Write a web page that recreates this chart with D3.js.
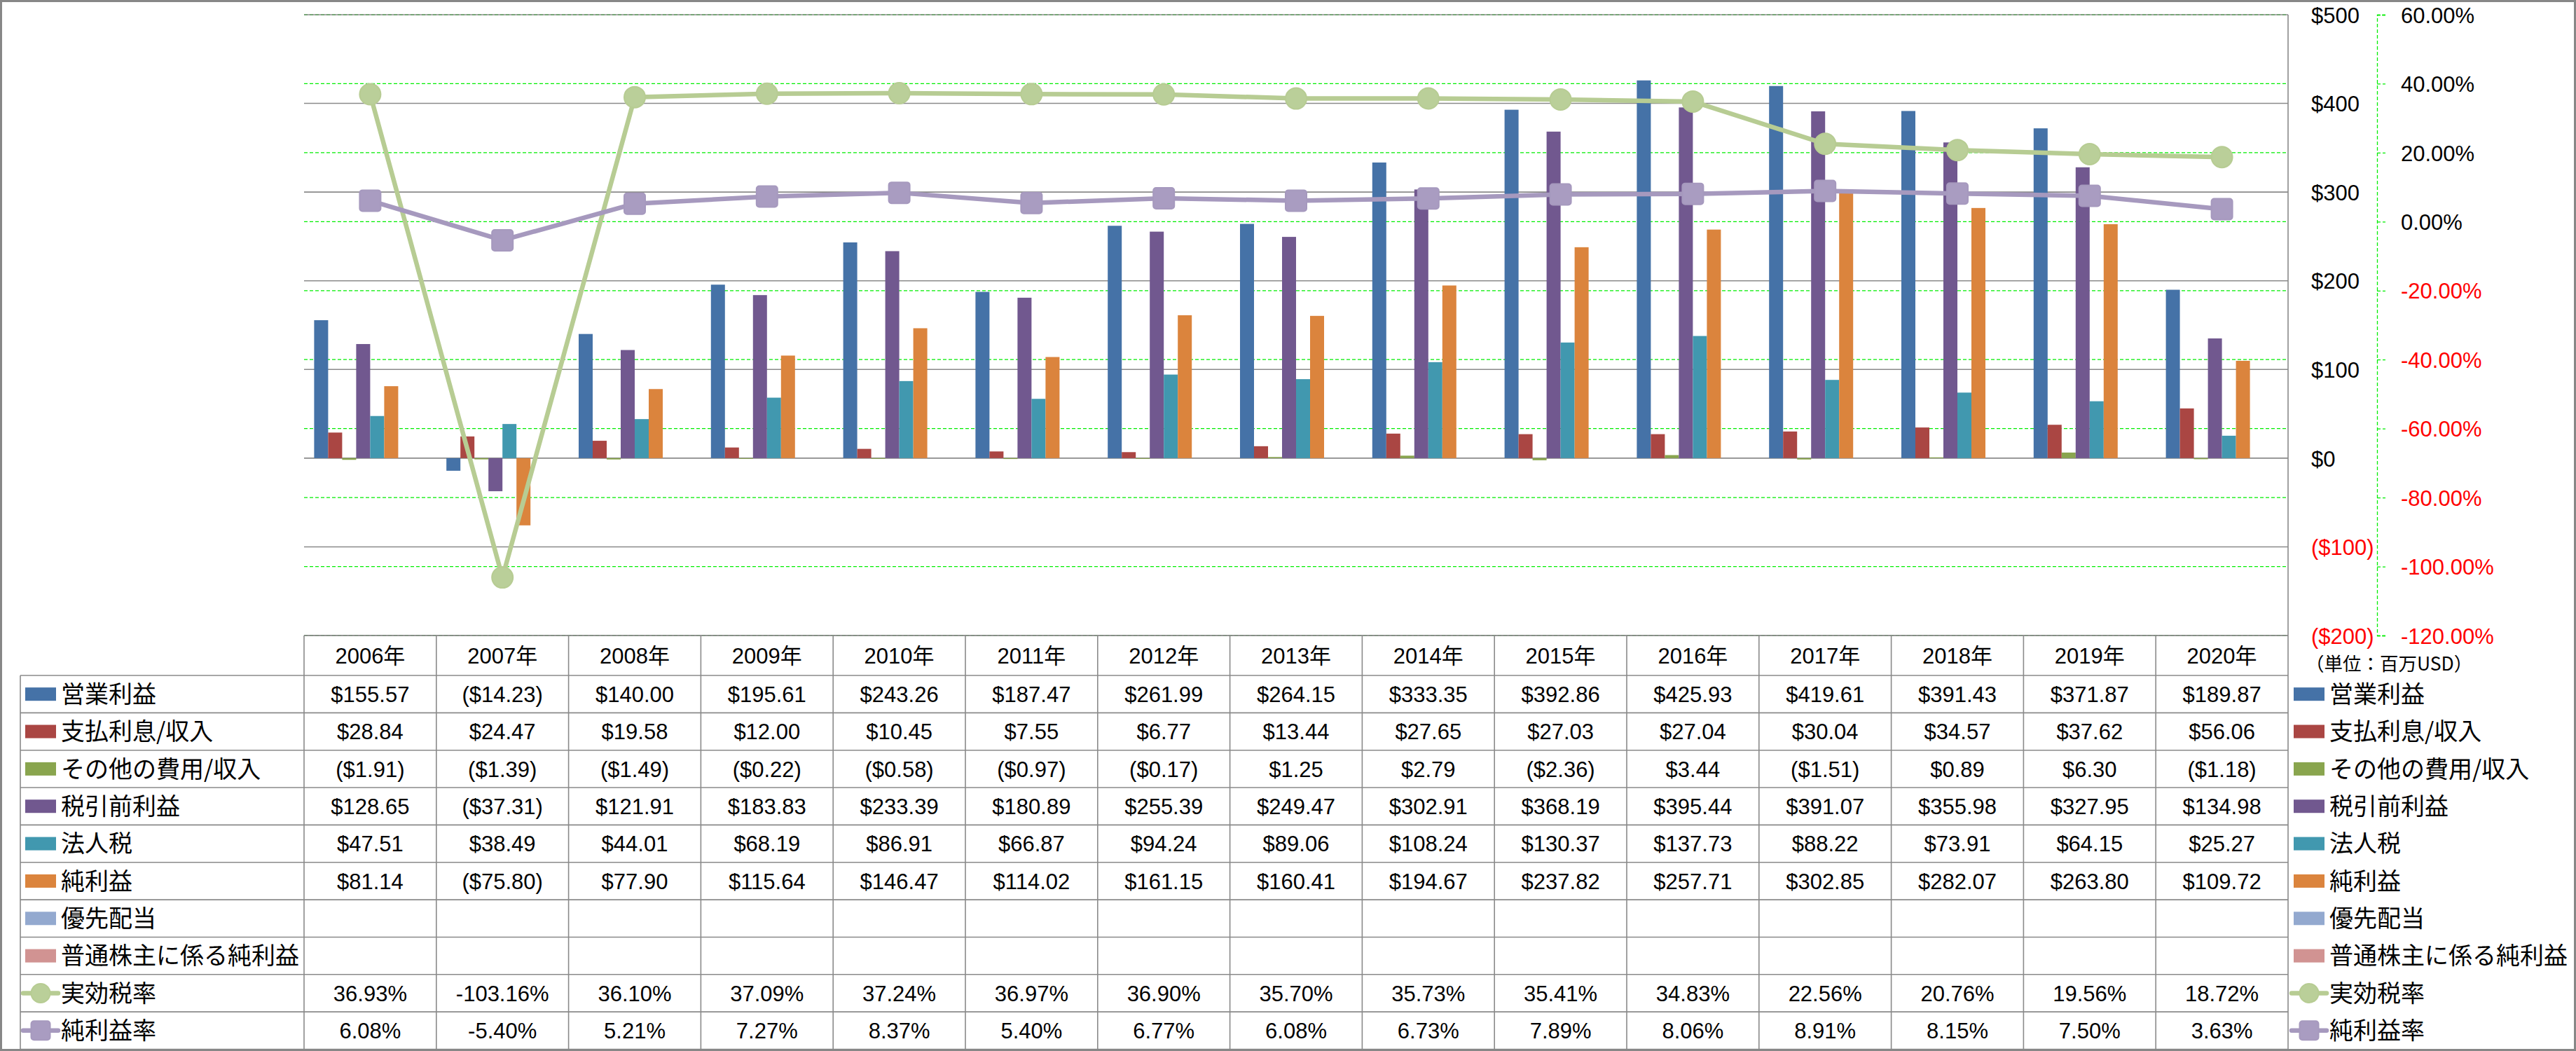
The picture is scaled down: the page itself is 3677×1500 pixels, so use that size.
<!DOCTYPE html>
<html><head><meta charset="utf-8">
<script src="https://cdn.jsdelivr.net/npm/d3@7"></script>
<style>body{margin:0;background:#fff} svg{display:block}</style>
</head><body><svg id="c" width="3677" height="1500"></svg>
<script>
// ---------- DATA ----------
const years = ["2006年","2007年","2008年","2009年","2010年","2011年","2012年","2013年","2014年","2015年","2016年","2017年","2018年","2019年","2020年"];
const operatingIncome = [155.57,-14.23,140.00,195.61,243.26,187.47,261.99,264.15,333.35,392.86,425.93,419.61,391.43,371.87,189.87];
const interestExpense = [28.84,24.47,19.58,12.00,10.45,7.55,6.77,13.44,27.65,27.03,27.04,30.04,34.57,37.62,56.06];
const otherExpense = [-1.91,-1.39,-1.49,-0.22,-0.58,-0.97,-0.17,1.25,2.79,-2.36,3.44,-1.51,0.89,6.30,-1.18];
const pretaxIncome = [128.65,-37.31,121.91,183.83,233.39,180.89,255.39,249.47,302.91,368.19,395.44,391.07,355.98,327.95,134.98];
const incomeTax = [47.51,38.49,44.01,68.19,86.91,66.87,94.24,89.06,108.24,130.37,137.73,88.22,73.91,64.15,25.27];
const netIncome = [81.14,-75.80,77.90,115.64,146.47,114.02,161.15,160.41,194.67,237.82,257.71,302.85,282.07,263.80,109.72];
const preferredDividends = [null,null,null,null,null,null,null,null,null,null,null,null,null,null,null];
const netIncomeCommon = [null,null,null,null,null,null,null,null,null,null,null,null,null,null,null];
const effectiveTaxRate = [36.93,-103.16,36.10,37.09,37.24,36.97,36.90,35.70,35.73,35.41,34.83,22.56,20.76,19.56,18.72];
const netMargin = [6.08,-5.40,5.21,7.27,8.37,5.40,6.77,6.08,6.73,7.89,8.06,8.91,8.15,7.50,3.63];
const primaryTicks = [-200,-100,0,100,200,300,400,500];
const secondaryTicks = [-120,-100,-80,-60,-40,-20,0,20,40,60];
const unitLabel = "（単位：百万USD）";

const barSeries = [
  {name:"営業利益", values:operatingIncome, color:"#4572A7"},
  {name:"支払利息/収入", values:interestExpense, color:"#AA4643"},
  {name:"その他の費用/収入", values:otherExpense, color:"#89A54E"},
  {name:"税引前利益", values:pretaxIncome, color:"#71588F"},
  {name:"法人税", values:incomeTax, color:"#4198AF"},
  {name:"純利益", values:netIncome, color:"#DB843D"},
  {name:"優先配当", values:preferredDividends, color:"#93A9CF"},
  {name:"普通株主に係る純利益", values:netIncomeCommon, color:"#D19392"}
];
const lineSeries = [
  {name:"実効税率", values:effectiveTaxRate, color:"#B7CC93", fill:"#BACF99", marker:"circle"},
  {name:"純利益率", values:netMargin, color:"#A699BE", fill:"#A99CC1", marker:"square"}
];

// ---------- LAYOUT ----------
const svg = d3.select("#c");
const W = 3677, H = 1500;
const plotL = 434, plotR = 3266, plotT = 21, plotB = 907;
const tableL = 29, rowTop = 964, rowH = 53.35;
const numFont = "'Liberation Sans', 'Noto Sans CJK JP', sans-serif";
const jpFont = "'Noto Sans CJK JP', sans-serif";
const gridGray = "#8A8A8A";
const green = "#00EE00";

const x0 = d3.scaleBand().domain(years).range([plotL, plotR]).paddingInner(0.1525).paddingOuter(0.1525/2);
const x1 = d3.scaleBand().domain(d3.range(barSeries.length)).range([0, x0.bandwidth()]);
const y1 = d3.scaleLinear().domain([-200, 500]).range([plotB, plotT]);
const y2 = d3.scaleLinear().domain([-120, 60]).range([plotB, plotT]);
const step = x0.step();
const cx = d => x0(d) + x0.bandwidth()/2;

svg.append("rect").attr("width", W).attr("height", H).attr("fill", "#fff");

// secondary gridlines (green dashed)
svg.append("g").selectAll("line").data(secondaryTicks).join("line")
  .attr("x1", plotL).attr("x2", plotR).attr("y1", d => y2(d)).attr("y2", d => y2(d))
  .attr("stroke", green).attr("stroke-width", 1.3).attr("stroke-dasharray", "5,3");
// primary gridlines (gray)
svg.append("g").selectAll("line").data(primaryTicks).join("line")
  .attr("x1", plotL).attr("x2", plotR).attr("y1", d => y1(d)).attr("y2", d => y1(d))
  .attr("stroke", gridGray).attr("stroke-width", 1.6);

// bars
const gBars = svg.append("g");
barSeries.forEach((s, j) => {
  gBars.append("g").selectAll("rect")
    .data(years.map((y, i) => ({y, v: s.values[i]})).filter(d => d.v !== null))
    .join("rect")
    .attr("x", d => x0(d.y) + x1(j))
    .attr("width", x1.bandwidth())
    .attr("y", d => y1(Math.max(0, d.v)))
    .attr("height", d => Math.max(1, Math.abs(y1(d.v) - y1(0))))
    .attr("fill", s.color);
});

// lines
lineSeries.forEach(s => {
  const data = years.map((y, i) => ({y, v: s.values[i]}));
  svg.append("path").datum(data)
    .attr("d", d3.line().x(d => cx(d.y)).y(d => y2(d.v)))
    .attr("fill", "none").attr("stroke", s.color).attr("stroke-width", 6.5)
    .attr("stroke-linejoin", "round");
  const g = svg.append("g");
  if (s.marker === "circle") {
    g.selectAll("circle").data(data).join("circle")
      .attr("cx", d => cx(d.y)).attr("cy", d => y2(d.v)).attr("r", 15)
      .attr("fill", s.fill).attr("stroke", s.color).attr("stroke-width", 2);
  } else {
    g.selectAll("rect").data(data).join("rect")
      .attr("x", d => cx(d.y) - 15).attr("y", d => y2(d.v) - 15)
      .attr("width", 30).attr("height", 30).attr("rx", 4)
      .attr("fill", s.fill).attr("stroke", s.color).attr("stroke-width", 2);
  }
});

// plot right border
svg.append("line").attr("x1", plotR).attr("x2", plotR).attr("y1", plotT).attr("y2", rowTop + rowH*10)
  .attr("stroke", gridGray).attr("stroke-width", 1.6);

// primary axis (labels only)
const ax1 = svg.append("g").attr("transform", `translate(3299,0)`)
  .call(d3.axisRight(y1).tickValues(primaryTicks).tickSize(0).tickPadding(0)
    .tickFormat(d => d < 0 ? `($${-d})` : `$${d}`));
ax1.select(".domain").remove();
ax1.selectAll("text").attr("font-family", numFont).attr("font-size", 31)
  .attr("fill", d => d < 0 ? "#FF0000" : "#000").attr("dy", "0.36em");

// secondary axis
const ax2 = svg.append("g").attr("transform", `translate(3393,0)`)
  .call(d3.axisRight(y2).tickValues(secondaryTicks).tickSize(12).tickPadding(22)
    .tickFormat(d => d.toFixed(2) + "%"));
ax2.select(".domain").attr("stroke", green).attr("stroke-width", 1.3).attr("stroke-dasharray", "5,3");
ax2.selectAll(".tick line").attr("stroke", green).attr("stroke-width", 1.3).attr("stroke-dasharray", "5,3");
ax2.selectAll("text").attr("font-family", numFont).attr("font-size", 31)
  .attr("fill", d => d < 0 ? "#FF0000" : "#000").attr("dy", "0.36em");

// unit label
svg.append("text").attr("x", 3291).attr("y", 947).attr("dy", "0.36em")
  .attr("font-family", jpFont).attr("font-size", 26.5).text(unitLabel);

// ---------- DATA TABLE ----------
const tg = svg.append("g");
const rows = [...barSeries.map(s => ({...s, kind:"bar"})), ...lineSeries.map(s => ({...s, kind:"line"}))];
const tableBottom = rowTop + rowH * rows.length;
const fmtMoney = v => v === null ? "" : (v < 0 ? `($${Math.abs(v).toFixed(2)})` : `$${v.toFixed(2)}`);
const fmtPct = v => v === null ? "" : v.toFixed(2) + "%";

// horizontal lines
tg.append("line").attr("x1", plotL).attr("x2", plotR).attr("y1", plotB).attr("y2", plotB)
  .attr("stroke", gridGray).attr("stroke-width", 1.6);
tg.selectAll(".hl").data(d3.range(rows.length + 1)).join("line")
  .attr("x1", tableL).attr("x2", plotR)
  .attr("y1", i => rowTop + i*rowH).attr("y2", i => rowTop + i*rowH)
  .attr("stroke", gridGray).attr("stroke-width", 1.6);
// vertical lines
tg.selectAll(".vl").data(d3.range(years.length)).join("line")
  .attr("x1", i => plotL + i*step).attr("x2", i => plotL + i*step)
  .attr("y1", plotB).attr("y2", tableBottom)
  .attr("stroke", gridGray).attr("stroke-width", 1.6);
tg.append("line").attr("x1", tableL).attr("x2", tableL).attr("y1", rowTop).attr("y2", tableBottom)
  .attr("stroke", gridGray).attr("stroke-width", 1.6);

// header
tg.selectAll(".yr").data(years).join("text")
  .attr("x", d => cx(d)).attr("y", (plotB + rowTop)/2).attr("dy", "0.36em")
  .attr("text-anchor", "middle").attr("font-family", numFont).attr("font-size", 31).text(d => d);

// legend keys
function drawKey(g, s, xStart, yc) {
  if (s.kind === "bar") {
    g.append("rect").attr("x", xStart).attr("y", yc - 9.5).attr("width", 44).attr("height", 19).attr("fill", s.color);
  } else {
    g.append("line").attr("x1", xStart - 3).attr("x2", xStart + 47).attr("y1", yc).attr("y2", yc)
      .attr("stroke", s.color).attr("stroke-width", 6.5).attr("stroke-linecap", "round");
    const mx = xStart + 22;
    if (s.marker === "circle") {
      g.append("circle").attr("cx", mx).attr("cy", yc).attr("r", 13.5).attr("fill", s.fill).attr("stroke", s.color).attr("stroke-width", 2);
    } else {
      g.append("rect").attr("x", mx - 13.5).attr("y", yc - 13.5).attr("width", 27).attr("height", 27).attr("rx", 4)
        .attr("fill", s.fill).attr("stroke", s.color).attr("stroke-width", 2);
    }
  }
}

rows.forEach((s, r) => {
  const yc = rowTop + r*rowH + rowH/2;
  drawKey(tg, s, 36, yc);
  tg.append("text").attr("x", 87).attr("y", yc).attr("dy", "0.36em")
    .attr("font-family", jpFont).attr("font-size", 34).text(s.name);
  drawKey(tg, s, 3274, yc);
  tg.append("text").attr("x", 3325).attr("y", yc).attr("dy", "0.36em")
    .attr("font-family", jpFont).attr("font-size", 34).text(s.name);
  const fmt = s.kind === "bar" ? fmtMoney : fmtPct;
  tg.append("g").selectAll("text").data(years.map((y, i) => ({y, v: s.values[i]}))).join("text")
    .attr("x", d => cx(d.y)).attr("y", yc).attr("dy", "0.36em")
    .attr("text-anchor", "middle").attr("font-family", numFont).attr("font-size", 31)
    .text(d => fmt(d.v));
});

// outer border
svg.append("rect").attr("x", 1.5).attr("y", 1.5).attr("width", W - 3).attr("height", H - 3)
  .attr("fill", "none").attr("stroke", "#878787").attr("stroke-width", 3);
</script></body></html>
